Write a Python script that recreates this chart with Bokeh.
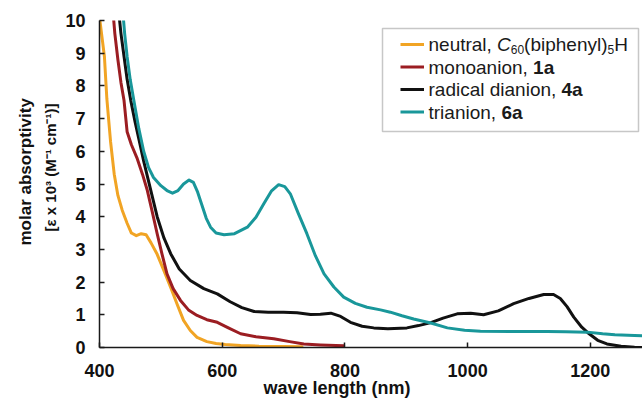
from bokeh.plotting import figure
from bokeh.models import Label, BoxAnnotation, Range1d, Title
from bokeh.embed import file_html
from bokeh.resources import INLINE

# ---------------- data ----------------
neutral_nm = [400, 404, 408, 412, 418, 424, 430, 437, 445, 452, 460, 468, 476, 484,
              494, 505, 516, 527, 537, 548, 559, 575, 590, 605, 630, 660, 700, 730]
neutral_eps = [10.1, 9.5, 8.9, 7.6, 6.3, 5.3, 4.65, 4.2, 3.8, 3.5, 3.42, 3.48, 3.45, 3.2,
               2.85, 2.35, 1.84, 1.3, 0.83, 0.52, 0.31, 0.18, 0.12, 0.09, 0.06, 0.04, 0.03, 0.02]

mono_nm = [421, 425, 430, 435, 440, 445, 452, 461, 470, 478, 486, 494, 502, 510,
           520, 532, 545, 559, 575, 592, 610, 630, 655, 684, 710, 733, 760, 798]
mono_eps = [10.5, 9.6, 8.8, 8.1, 7.55, 6.6, 6.2, 5.8, 5.3, 4.8, 4.15, 3.48, 2.85, 2.25,
            1.8, 1.44, 1.15, 0.98, 0.85, 0.77, 0.6, 0.42, 0.33, 0.27, 0.18, 0.11, 0.08, 0.05]

di_nm = [430, 435, 440, 445, 451, 458, 465, 472, 483, 494, 505, 516, 530, 548, 570, 592,
         613, 632, 652, 675, 700, 722, 744, 760, 777, 793, 809, 828, 847, 870, 901, 920,
         940, 960, 983, 1005, 1026, 1050, 1075, 1100, 1124, 1140, 1151, 1162, 1173, 1186,
         1198, 1212, 1227, 1250, 1272, 1285]
di_eps = [10.5, 9.6, 8.9, 8.2, 7.55, 6.9, 6.3, 5.7, 4.85, 4.0, 3.35, 2.87, 2.4, 2.05, 1.8, 1.64,
          1.4, 1.22, 1.1, 1.08, 1.08, 1.06, 1.01, 1.02, 1.05, 0.95, 0.77, 0.65, 0.6, 0.57, 0.6, 0.67,
          0.76, 0.9, 1.03, 1.05, 1.0, 1.12, 1.34, 1.5, 1.62, 1.62, 1.5, 1.25, 0.93, 0.62,
          0.42, 0.22, 0.11, 0.04, 0.01, 0.0]

tri_nm = [437, 441, 445, 450, 456, 464, 472, 480, 488, 500, 510, 519, 528, 537, 546, 553,
          560, 567, 574, 581, 590, 603, 620, 641, 655, 668, 680, 692, 702, 711, 724, 738,
          752, 766, 782, 798, 817, 836, 858, 874, 893, 912, 940, 967, 995, 1021, 1075, 1130,
          1160, 1195, 1220, 1240, 1272, 1285]
tri_eps = [10.5, 9.6, 8.9, 8.2, 7.55, 6.7, 6.0, 5.5, 5.2, 4.95, 4.8, 4.72, 4.8, 5.0, 5.12, 5.05,
           4.75, 4.35, 3.95, 3.68, 3.5, 3.45, 3.48, 3.68, 3.98, 4.4, 4.78, 4.98, 4.92, 4.7, 4.1, 3.48,
           2.8, 2.25, 1.85, 1.54, 1.35, 1.23, 1.15, 1.08, 0.97, 0.87, 0.75, 0.6, 0.53, 0.5, 0.49, 0.49,
           0.48, 0.47, 0.42, 0.39, 0.37, 0.36]

x_ticks = [400, 600, 800, 1000, 1200]
y_ticks = [0, 1, 2, 3, 4, 5, 6, 7, 8, 9, 10]

series_colors = ["#F1A424", "#9B1D22", "#111111", "#19979A"]

# ---------------- figure ----------------
W, H = 642, 404
X0, X1 = 400, 1285
Y0, Y1 = 0, 10
BL, BT, BB = 99, 20, 57          # frame spans x 99..642, y 20..347

p = figure(width=W, height=H, x_range=Range1d(X0, X1), y_range=Range1d(Y0, Y1),
           output_backend="svg", toolbar_location=None, title=None,
           min_border_left=BL, min_border_right=0, min_border_top=BT, min_border_bottom=BB)
p.outline_line_color = None
p.grid.visible = False
p.background_fill_color = "white"
p.border_fill_color = "white"

for ax in (p.xaxis, p.yaxis):
    ax.axis_line_color = "#1a1a1a"
    ax.axis_line_width = 1.5
    ax.major_tick_line_color = "#1a1a1a"
    ax.major_tick_line_width = 1.5
    ax.major_tick_in = 5
    ax.major_tick_out = 0
    ax.minor_tick_line_color = None
    ax.major_label_text_font = "Liberation Sans"
    ax.major_label_text_font_size = "18px"
    ax.major_label_text_font_style = "bold"
    ax.major_label_text_color = "#111111"
p.xaxis.ticker = x_ticks
p.yaxis.ticker = y_ticks
p.xaxis.major_label_standoff = 16
p.yaxis.major_label_standoff = 14

for nm, eps, c in zip([neutral_nm, mono_nm, di_nm, tri_nm],
                      [neutral_eps, mono_eps, di_eps, tri_eps], series_colors):
    p.line(nm, eps, line_color=c, line_width=3, line_join="round", line_cap="round")

# axis titles (as side-panel titles, so they are not clipped by the frame)
ylab2 = Title(text="[\u03b5 x 10\u00b3 (M\u207b\u00b9 cm\u207b\u00b9)]", align="left", offset=116,
              vertical_align="bottom", standoff=8, text_font="Liberation Sans",
              text_font_size="15px", text_font_style="bold", text_color="#111111")
ylab1 = Title(text="molar absorptivity", align="left", offset=102,
              vertical_align="bottom", standoff=2, text_font="Liberation Sans",
              text_font_size="17px", text_font_style="bold", text_color="#111111")
p.add_layout(ylab2, "left")
p.add_layout(ylab1, "left")
xlab = Title(text="wave length (nm)", align="left", offset=164, vertical_align="bottom",
             standoff=-8, text_font="Liberation Sans", text_font_size="18px",
             text_font_style="bold", text_color="#111111")
p.add_layout(xlab, "below")

# helpers: convert picture-pixel layout positions into data coordinates
FL, FR, FT, FBm = BL, W, BT, H - BB


def fx(px):
    return X0 + (px - FL) * (X1 - X0) / (FR - FL)


def fy(py):
    return Y0 + (FBm - py) * (Y1 - Y0) / (FBm - FT)


def add_text(px, py, text, size=19, style="normal"):
    p.add_layout(Label(x=fx(px), y=fy(py), text=text, text_font="Liberation Sans",
                       text_font_size=f"{size}px", text_font_style=style,
                       text_baseline="middle", text_align="left", text_color="#1a1a1a"))


# legend box
p.add_layout(BoxAnnotation(left=fx(382), right=fx(638), top=fy(28), bottom=fy(131),
                           fill_color="white", fill_alpha=1.0,
                           line_color="#444444", line_width=1.5))

rows = [44, 66.5, 89, 111.5]
for r, c in zip(rows, series_colors):
    p.add_layout(BoxAnnotation(left=fx(400), right=fx(423.5), top=fy(r - 1.5), bottom=fy(r + 1.5),
                               fill_color=c, fill_alpha=1.0, line_color=None))

TX = 428
# row 1: neutral, C60(biphenyl)5H
add_text(TX, rows[0], "neutral, ")
add_text(TX + 68.6, rows[0], "C", style="italic")
add_text(TX + 82.3, rows[0] + 5, "60", size=12)
add_text(TX + 95.6, rows[0], "(biphenyl)")
add_text(TX + 179.0, rows[0] + 5, "5", size=12)
add_text(TX + 185.7, rows[0], "H")
# row 2
add_text(TX, rows[1], "monoanion, ")
add_text(TX + 104.6, rows[1], "1a", style="bold")
# row 3
add_text(TX, rows[2], "radical dianion, ")
add_text(TX + 133.0, rows[2], "4a", style="bold")
# row 4
add_text(TX, rows[3], "trianion, ")
add_text(TX + 72.9, rows[3], "6a", style="bold")

open("out.html", "w").write(file_html(p, INLINE))
